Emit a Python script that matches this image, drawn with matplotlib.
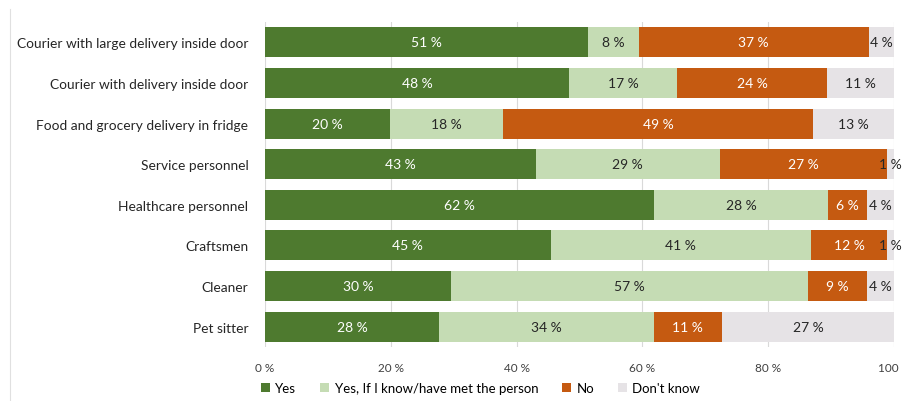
import matplotlib.pyplot as plt
from matplotlib.lines import Line2D

plt.rcParams['font.family'] = ['Lato', 'DejaVu Sans']

categories = [
    "Courier with large delivery inside door",
    "Courier with delivery inside door",
    "Food and grocery delivery in fridge",
    "Service personnel",
    "Healthcare personnel",
    "Craftsmen",
    "Cleaner",
    "Pet sitter",
]
yes = [51.3, 48.3, 19.9, 43.0, 61.8, 45.4, 29.6, 27.7]
yes_if_known = [8.1, 17.2, 18.0, 29.3, 27.7, 41.4, 56.7, 34.1]
no = [36.6, 23.9, 49.2, 26.6, 6.2, 12.1, 9.4, 10.8]
dont_know = [4.0, 10.6, 12.9, 1.1, 4.3, 1.1, 4.3, 27.4]

series_names = ["Yes", "Yes, If I know/have met the person", "No", "Don't know"]
colors = ["#4e7a2f", "#c5dcb4", "#c55a11", "#e6e3e6"]
text_colors = ["white", "#262626", "white", "#262626"]
x_ticks = [0, 20, 40, 60, 80, 100]

fig = plt.figure(figsize=(9.03, 4.02), dpi=100)
ax = fig.add_axes([0.2935, 0.1343, 0.6966, 0.8085])

y = list(range(len(categories)))
left = [0.0] * len(categories)
for vals, name, c, tc in zip([yes, yes_if_known, no, dont_know], series_names, colors, text_colors):
    bars = ax.barh(y, vals, left=left, height=0.74, color=c, label=name, zorder=3)
    for b, v in zip(bars, vals):
        ax.text(b.get_x() + b.get_width() / 2, b.get_y() + b.get_height() / 2,
                f"{v:.0f} %", ha='center', va='center', color=tc, fontsize=10, zorder=4)
    left = [l + v for l, v in zip(left, vals)]

ax.set_xlim(0, 100)
ax.set_ylim(len(categories) - 0.5, -0.5)
ax.set_yticks(y)
ax.set_yticklabels(categories, fontsize=9.9, color="#262626")
ax.set_xticks(x_ticks)
ax.set_xticklabels([f"{t} %" for t in x_ticks], fontsize=8.5, color="#404040")
ax.tick_params(length=0)
ax.tick_params(axis='y', pad=12)
ax.tick_params(axis='x', pad=11)
ax.xaxis.grid(True, color="#d9d9d9", linewidth=0.8, zorder=0)
for s in ax.spines.values():
    s.set_visible(False)

fig.add_artist(Line2D([0.011, 0.011], [0.0, 0.975], color="#e0e0e0", linewidth=0.8))

handles, labels = ax.get_legend_handles_labels()
fig.legend(handles, labels, loc='center', bbox_to_anchor=(0.532, 0.032), ncol=4,
           frameon=False, fontsize=9.5, handlelength=0.7, handleheight=0.7,
           handletextpad=0.4, columnspacing=1.8)

fig.savefig("out.png", dpi=100)
